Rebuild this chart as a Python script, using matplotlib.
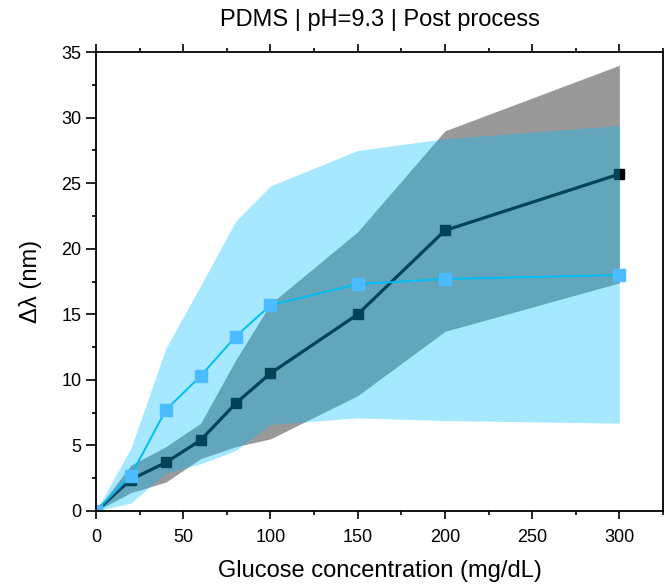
"""
PDMS response curve at pH 9.3, post process.
"""
import matplotlib
matplotlib.use("Agg")
import matplotlib.pyplot as plt
from matplotlib.ticker import MultipleLocator

plt.rcParams["font.family"] = ["Liberation Sans", "DejaVu Sans"]

glucose = [0, 20, 40, 60, 80, 100, 150, 200, 300]

# dark series (mean and band)
dark_mean = [0, 2.4, 3.7, 5.4, 8.2, 10.5, 15.0, 21.4, 25.7]
dark_upper = [0, 3.5, 4.9, 6.7, 11.5, 15.8, 21.3, 29.0, 34.0]
dark_lower = [0, 1.4, 2.2, 4.0, 4.9, 5.5, 8.8, 13.7, 17.4]

# light series (mean and band)
light_mean = [0, 2.7, 7.7, 10.3, 13.3, 15.7, 17.3, 17.7, 18.0]
light_upper = [0, 4.8, 12.4, 17.2, 22.1, 24.8, 27.5, 28.4, 29.4]
light_lower = [0, 0.6, 2.9, 3.6, 4.6, 6.6, 7.1, 6.9, 6.7]

fig = plt.figure(figsize=(6.65, 5.86), dpi=100)
ax = fig.add_axes([0.1444, 0.128, 0.8526, 0.783])

# draw order matters: the light band sits over the dark curve
ax.fill_between(glucose, dark_lower, dark_upper, color="black", alpha=0.4,
                linewidth=0, zorder=1)
ax.plot(glucose, dark_mean, color="black", linewidth=2.3, marker="s",
        markersize=7, zorder=2)
ax.fill_between(glucose, light_lower, light_upper, color="#00bfff",
                alpha=0.35, linewidth=0, zorder=3)
ax.plot(glucose, light_mean, color="#00bdf5", linewidth=1.4, marker="s",
        markersize=8, markerfacecolor="#4dbbff", markeredgecolor="#4dbbff",
        zorder=4)

ax.set_xlim(0, 325)
ax.set_ylim(0, 35)
ax.xaxis.set_major_locator(MultipleLocator(50))
ax.xaxis.set_minor_locator(MultipleLocator(25))
ax.yaxis.set_major_locator(MultipleLocator(5))
ax.yaxis.set_minor_locator(MultipleLocator(2.5))
ax.tick_params(which="both", direction="out", top=True, right=False,
               width=1.2, labelsize=13)
ax.tick_params(which="major", length=6)
ax.tick_params(which="minor", length=3)
ax.tick_params(axis="x", which="major", pad=7)
ax.tick_params(axis="y", which="major", length=7)
for s in ax.spines.values():
    s.set_linewidth(1.3)
    s.set_zorder(5)

ax.set_title("PDMS | pH=9.3 | Post process", fontsize=17, pad=19)
ax.set_xlabel("Glucose concentration (mg/dL)", fontsize=17, labelpad=10)
ax.set_ylabel("Δλ (nm)", fontsize=17, labelpad=14)

fig.savefig("out.png", dpi=100)
